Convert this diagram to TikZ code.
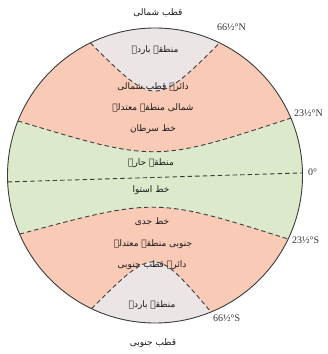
\documentclass[tikz,border=0pt]{standalone}
\usepackage{fontspec}
\setmainfont{Liberation Serif}
\newfontfamily\urdufont[Script=Arabic]{DejaVu Sans}
\TeXXeTstate=1
\usepackage{tikz}
\usetikzlibrary{calc}
\definecolor{coldzone}{HTML}{ECE5E5}
\definecolor{tempzone}{HTML}{F9CAB6}
\definecolor{hotzone}{HTML}{DCEACB}
\definecolor{rim}{HTML}{3C3C3C}
\newcommand{\urtext}[1]{\urdufont\beginR #1\endR}
\tikzstyle{zonetext} = [font=\small, inner sep=1pt, text=black!90]
\tikzstyle{degree} = [font=\fontsize{10}{12}\selectfont, inner sep=0pt, text=black!80]
\tikzstyle{latline} = [draw=rim, dash pattern=on 4.5pt off 3pt, line width=0.9pt]

\begin{document}
\begin{tikzpicture}[x=1pt, y=1pt]
    \useasboundingbox (0,0) rectangle (328,354);
    % Place coordinates
    \coordinate (centre) at (155,178.5);
    \coordinate (arcW) at ($(centre)+(116:147.5)$);
    \coordinate (arcE) at ($(centre)+(64:147.5)$);
    \coordinate (arcM) at (155,279);
    \coordinate (cancerW) at ($(centre)+(158.3:147.5)$);
    \coordinate (cancerE) at ($(centre)+(22.9:147.5)$);
    \coordinate (cancerM) at (155,213);
    \coordinate (eqW) at ($(centre)+(182.5:147.5)$);
    \coordinate (eqE) at ($(centre)+(1:147.5)$);
    \coordinate (capW) at ($(centre)+(203.4:147.5)$);
    \coordinate (capE) at ($(centre)+(-25.5:147.5)$);
    \coordinate (capM) at (155,137);
    \coordinate (antW) at ($(centre)+(244.5:147.5)$);
    \coordinate (antE) at ($(centre)+(-67.7:147.5)$);
    \coordinate (antM) at (153,76);
    % control points
    \coordinate (arcC) at ($2*(arcM)-0.5*(arcW)-0.5*(arcE)$);
    \coordinate (cancerC) at ($2*(cancerM)-0.5*(cancerW)-0.5*(cancerE)$);
    \coordinate (capC) at ($2*(capM)-0.5*(capW)-0.5*(capE)$);
    \coordinate (antC) at ($2*(antM)-0.5*(antW)-0.5*(antE)$);

    % Fill zones
    \begin{scope}
        \clip (centre) circle (147.5);
        \fill [tempzone] (0,0) rectangle (328,354);
        \fill [hotzone] (cancerW) .. controls (cancerC) .. (cancerE)
            -- ($(cancerE)+(40,0)$) -- ($(capE)+(40,0)$) -- (capE)
            .. controls (capC) .. (capW) -- ($(capW)-(40,0)$)
            -- ($(cancerW)-(40,0)$) -- cycle;
        \fill [coldzone] (arcW) .. controls (arcC) .. (arcE)
            -- ($(arcE)+(0,40)$) -- ($(arcW)+(0,40)$) -- cycle;
        \fill [coldzone] (antW) .. controls (antC) .. (antE)
            -- ($(antE)-(0,40)$) -- ($(antW)-(0,40)$) -- cycle;
    \end{scope}

    % Draw latitudes
    \path [latline] (arcW) .. controls (arcC) .. (arcE);
    \path [latline] (cancerW) .. controls (cancerC) .. (cancerE);
    \path [latline] (eqW) -- (eqE);
    \path [latline] (capW) .. controls (capC) .. (capE);
    \path [latline] (antW) .. controls (antC) .. (antE);
    \draw [rim, line width=0.9pt] (centre) circle (147.5);

    % Place labels
    \node [zonetext] (npole) at (158,341) {\urtext{قطب شمالی}};
    \node [zonetext] (ncold) at (155,304) {\urtext{منطقہ باردہ}};
    \node [zonetext] (arctic) at (153,267) {\urtext{دائرہ قطب شمالی}};
    \node [zonetext] (ntemp) at (153,246) {\urtext{شمالی منطقہ معتدلہ}};
    \node [zonetext] (cancer) at (153,225) {\urtext{خط سرطان}};
    \node [zonetext] (hot) at (151,191) {\urtext{منطقہ حارہ}};
    \node [zonetext] (equator) at (151,164) {\urtext{خط استوا}};
    \node [zonetext] (capricorn) at (152,132) {\urtext{خط جدی}};
    \node [zonetext] (stemp) at (153,110) {\urtext{جنوبی منطقہ معتدلہ}};
    \node [zonetext] (antarctic) at (152,89) {\urtext{دائرہ قطب جنوبی}};
    \node [zonetext] (scold) at (152,49) {\urtext{منطقہ باردہ}};
    \node [zonetext] (spole) at (153,11) {\urtext{قطب جنوبی}};

    \node [degree, anchor=west] (n66) at (217,327) {66½°N};
    \node [degree, anchor=west] (n23) at (294,241) {23½°N};
    \node [degree, anchor=west] (zero) at (308,182) {0°};
    \node [degree, anchor=west] (s23) at (292,114) {23½°S};
    \node [degree, anchor=west] (s66) at (213,36) {66½°S};
\end{tikzpicture}
\end{document}
